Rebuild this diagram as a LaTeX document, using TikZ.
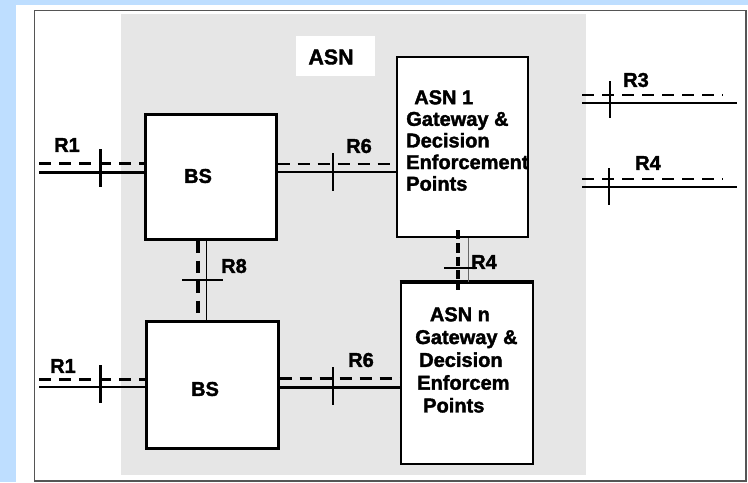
\documentclass[tikz,border=0pt]{standalone}
\usepackage{fontspec}
\setmainfont{Liberation Sans}[BoldFont={Liberation Sans Bold}, BoldFeatures={FakeBold=1.8}]
\usepackage{xcolor}
\usepackage{tikz}
\usetikzlibrary{positioning}
\definecolor{pageblue}{RGB}{190,222,255}
\definecolor{asngrey}{RGB}{230,230,230}
\definecolor{framegrey}{RGB}{85,85,85}
\begin{document}
\begin{tikzpicture}[x=0.75pt, y=-0.75pt,
		box/.style={draw, line width=2.25pt, fill=white, shape=rectangle, inner sep=0pt},
		lbl/.style={inner sep=0pt, font=\fontsize{15pt}{17pt}\selectfont\bfseries},
		boxtext/.style={anchor=north west, align=left, inner sep=0pt},
		wire/.style={line width=2.25pt},
		thinwire/.style={line width=0.9pt},
		dwire/.style={line width=2.25pt, dash pattern=on 9pt off 6pt},
		tick/.style={line width=2pt},
		thintick/.style={line width=1pt}]
				% Page and frame:
				\useasboundingbox (0,0) rectangle (748,482);
				\fill[pageblue] (0,0) rectangle (748,482);
				\fill[white] (16,5) rectangle (748,482);
				\draw[framegrey, line width=1.3pt] (34.5,10.5) rectangle (746,481);
				\fill[asngrey] (121,13.5) rectangle (585.5,475);
				
				% ASN title:
				\node[fill=white, minimum width=59.25pt, minimum height=30pt, inner sep=0pt] (asnpatch) at (335.5,56){};
				\node[lbl, font=\fontsize{16pt}{18pt}\selectfont\bfseries] (asnlbl) at (331,57){ASN};
				
				% Boxes:
				\node[box, minimum width=98.25pt, minimum height=93.75pt] (bs1) at (210.5,176.5){};
				\node[box, minimum width=99pt, minimum height=95.25pt] (bs2) at (212,384.5){};
				\node[box, line width=2pt, minimum width=98.25pt, minimum height=135pt] (asn1) at (462.5,147){};
				\node[box, line width=2pt, minimum width=99pt, minimum height=135.75pt] (asnn) at (467,373.5){};
				\draw[line width=3pt] (asnn.north west) -- (asnn.north east);
				
				\node[lbl] (bs1lbl) at (198,176){BS};
				\node[lbl] (bs2lbl) at (205,389){BS};
				\node[lbl, boxtext, font=\fontsize{15pt}{16.2pt}\selectfont\bfseries] (asn1lbl) at (406,90)
				{\hspace*{6pt}ASN 1\\Gateway \&\\Decision\\Enforcement\\Points};
				\node[lbl, boxtext, font=\fontsize{15pt}{17.1pt}\selectfont\bfseries] (asnnlbl) at (415,307)
				{\hspace*{11pt}ASN n\\Gateway \&\\\hspace*{3pt}Decision\\\hspace*{1.5pt}Enforcem\\\hspace*{6pt}Points};
				
				% R1, upper BS:
				\coordinate (r1aS) at (39,172);
				\coordinate (r1aD) at (39,163);
				\draw[wire] (r1aS) -- (r1aS -| bs1.west);
				\draw[dwire] (r1aD) -- (r1aD -| bs1.west);
				\draw[tick, line width=2.25pt] (100,149) -- (100,187);
				\node[lbl] (r1alb) at (67,145){R1};
				
				% R6, upper BS to ASN 1:
				\coordinate (r6aS) at (bs1.east |- 0,172);
				\coordinate (r6aD) at (bs1.east |- 0,164);
				\draw[thinwire] (r6aS) -- (r6aS -| asn1.west);
				\draw[dwire, line width=2pt] (r6aD) -- (r6aD -| asn1.west);
				\draw[thintick] (333,153) -- (333,191);
				\node[lbl] (r6alb) at (359,146){R6};
				
				% R8, BS to BS:
				\coordinate (r8D) at (198,0);
				\coordinate (r8S) at (206.5,0);
				\draw[dwire, line width=2.5pt] (r8D |- bs1.south) -- (r8D |- bs2.north);
				\draw[thinwire] (r8S |- bs1.south) -- (r8S |- bs2.north);
				\draw[thintick] (182,280) -- (223,280);
				\node[lbl] (r8lb) at (234,266){R8};
				
				% R4, ASN 1 to ASN n:
				\coordinate (r4mD) at (458,0);
				\coordinate (r4mS) at (468,0);
				\draw[black!60, line width=0.7pt] (r4mS |- asn1.south) -- (r4mS |- asnn.north);
				\draw[line width=2.8pt, dash pattern=on 7pt off 3pt] (458,230) -- (458,290);
				\draw[line width=1.6pt] (444,268) -- (477,268);
				\node[lbl] (r4mlb) at (484,262){R4};
				
				% R1, lower BS:
				\coordinate (r1bS) at (39,387);
				\coordinate (r1bD) at (39,379);
				\draw[wire, line width=2pt] (r1bS) -- (r1bS -| bs2.west);
				\draw[dwire] (r1bD) -- (r1bD -| bs2.west);
				\draw[tick, line width=2.25pt] (100,365) -- (100,403);
				\node[lbl] (r1blb) at (63,366){R1};
				
				% R6, lower BS to ASN n:
				\coordinate (r6bS) at (bs2.east |- 0,387);
				\coordinate (r6bD) at (bs2.east |- 0,378);
				\draw[wire] (r6bS) -- (r6bS -| asnn.west);
				\draw[dwire] (r6bD) -- (r6bD -| asnn.west);
				\draw[thintick] (333,367) -- (333,405);
				\node[lbl] (r6blb) at (361,360){R6};
				
				% R3 and R4 on the right:
				\coordinate (r3S) at (582,103);
				\coordinate (r3D) at (582,95);
				\draw[line width=1.5pt] (r3S) -- ++(155,0);
				\draw[dwire, line width=2pt] (r3D) -- ++(141,0);
				\draw[line width=1.2pt] (610,81) -- (610,118);
				\node[lbl] (r3lb) at (636,80){R3};
				
				\coordinate (r4S) at (582,187);
				\coordinate (r4D) at (582,179);
				\draw[line width=1.5pt] (r4S) -- ++(155,0);
				\draw[dwire, line width=2pt] (r4D) -- ++(141,0);
				\draw[line width=1.2pt] (609,168) -- (609,205);
				\node[lbl] (r4lb) at (648,163){R4};
\end{tikzpicture}
\end{document}
